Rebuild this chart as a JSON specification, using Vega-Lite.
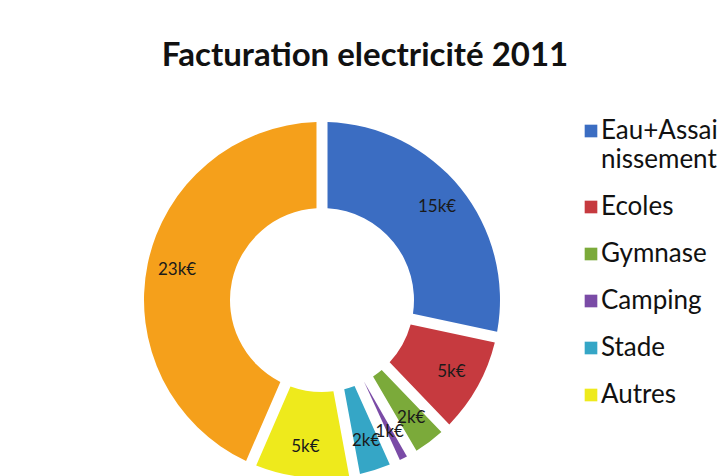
{
  "$schema": "https://vega.github.io/schema/vega-lite/v6.json",
  "autosize": "none",
  "width": 644,
  "height": 352,
  "padding": {"left": 0, "top": 124, "right": 80, "bottom": 0},
  "background": "white",
  "config": {"view": {"stroke": null}},
  "title": {
    "text": "Facturation electricité 2011",
    "font": "Lato",
    "fontSize": 33,
    "fontWeight": "bold",
    "color": "#111111",
    "anchor": "middle",
    "dx": 43,
    "offset": 45
  },
  "data": {
    "values": [
      {"poste": "Eau+Assainissement", "montant": 15, "label": "15k€", "ordre": 1},
      {"poste": "Ecoles", "montant": 5, "label": "5k€", "ordre": 2},
      {"poste": "Gymnase", "montant": 2, "label": "2k€", "ordre": 3},
      {"poste": "Camping", "montant": 0.9, "label": "1k€", "ordre": 4},
      {"poste": "Stade", "montant": 2, "label": "2k€", "ordre": 5},
      {"poste": "Autres", "montant": 5, "label": "5k€", "ordre": 6},
      {"poste": "Eclairage public", "montant": 23, "label": "23k€", "ordre": 7}
    ]
  },
  "encoding": {
    "theta": {"field": "montant", "type": "quantitative", "stack": true},
    "order": {"field": "ordre", "type": "quantitative"}
  },
  "layer": [
    {
      "mark": {"type": "arc", "outerRadius": 178, "innerRadius": 92, "padAngle": 0.055},
      "encoding": {
        "color": {
          "field": "poste",
          "type": "nominal",
          "scale": {
            "domain": ["Eau+Assainissement", "Ecoles", "Gymnase", "Camping", "Stade", "Autres", "Eclairage public"],
            "range": ["#3B6DC2", "#C63A3F", "#7BAA3A", "#7A4BA6", "#35A6C6", "#EEEA1C", "#F5A01B"]
          },
          "legend": {
            "orient": "none",
            "legendX": 578,
            "legendY": -6,
            "title": null,
            "values": ["Eau+Assainissement", "Ecoles", "Gymnase", "Camping", "Stade", "Autres"],
            "symbolType": "square",
            "symbolSize": 160,
            "symbolStrokeWidth": 0,
            "labelFont": "Lato",
            "labelFontSize": 26,
            "labelColor": "#111111",
            "labelLimit": 300,
            "labelOffset": -3,
            "rowPadding": 21,
            "labelExpr": "datum.label == 'Eau+Assainissement' ? ['Eau+Assai', 'nissement'] : datum.label",
            "encode": {"labels": {"update": {"lineHeight": {"value": 29}}}}
          }
        }
      }
    },
    {
      "mark": {"type": "text", "radius": 148, "font": "Lato", "fontSize": 17, "color": "#1a1a1a"},
      "encoding": {"text": {"field": "label"}}
    }
  ]
}
